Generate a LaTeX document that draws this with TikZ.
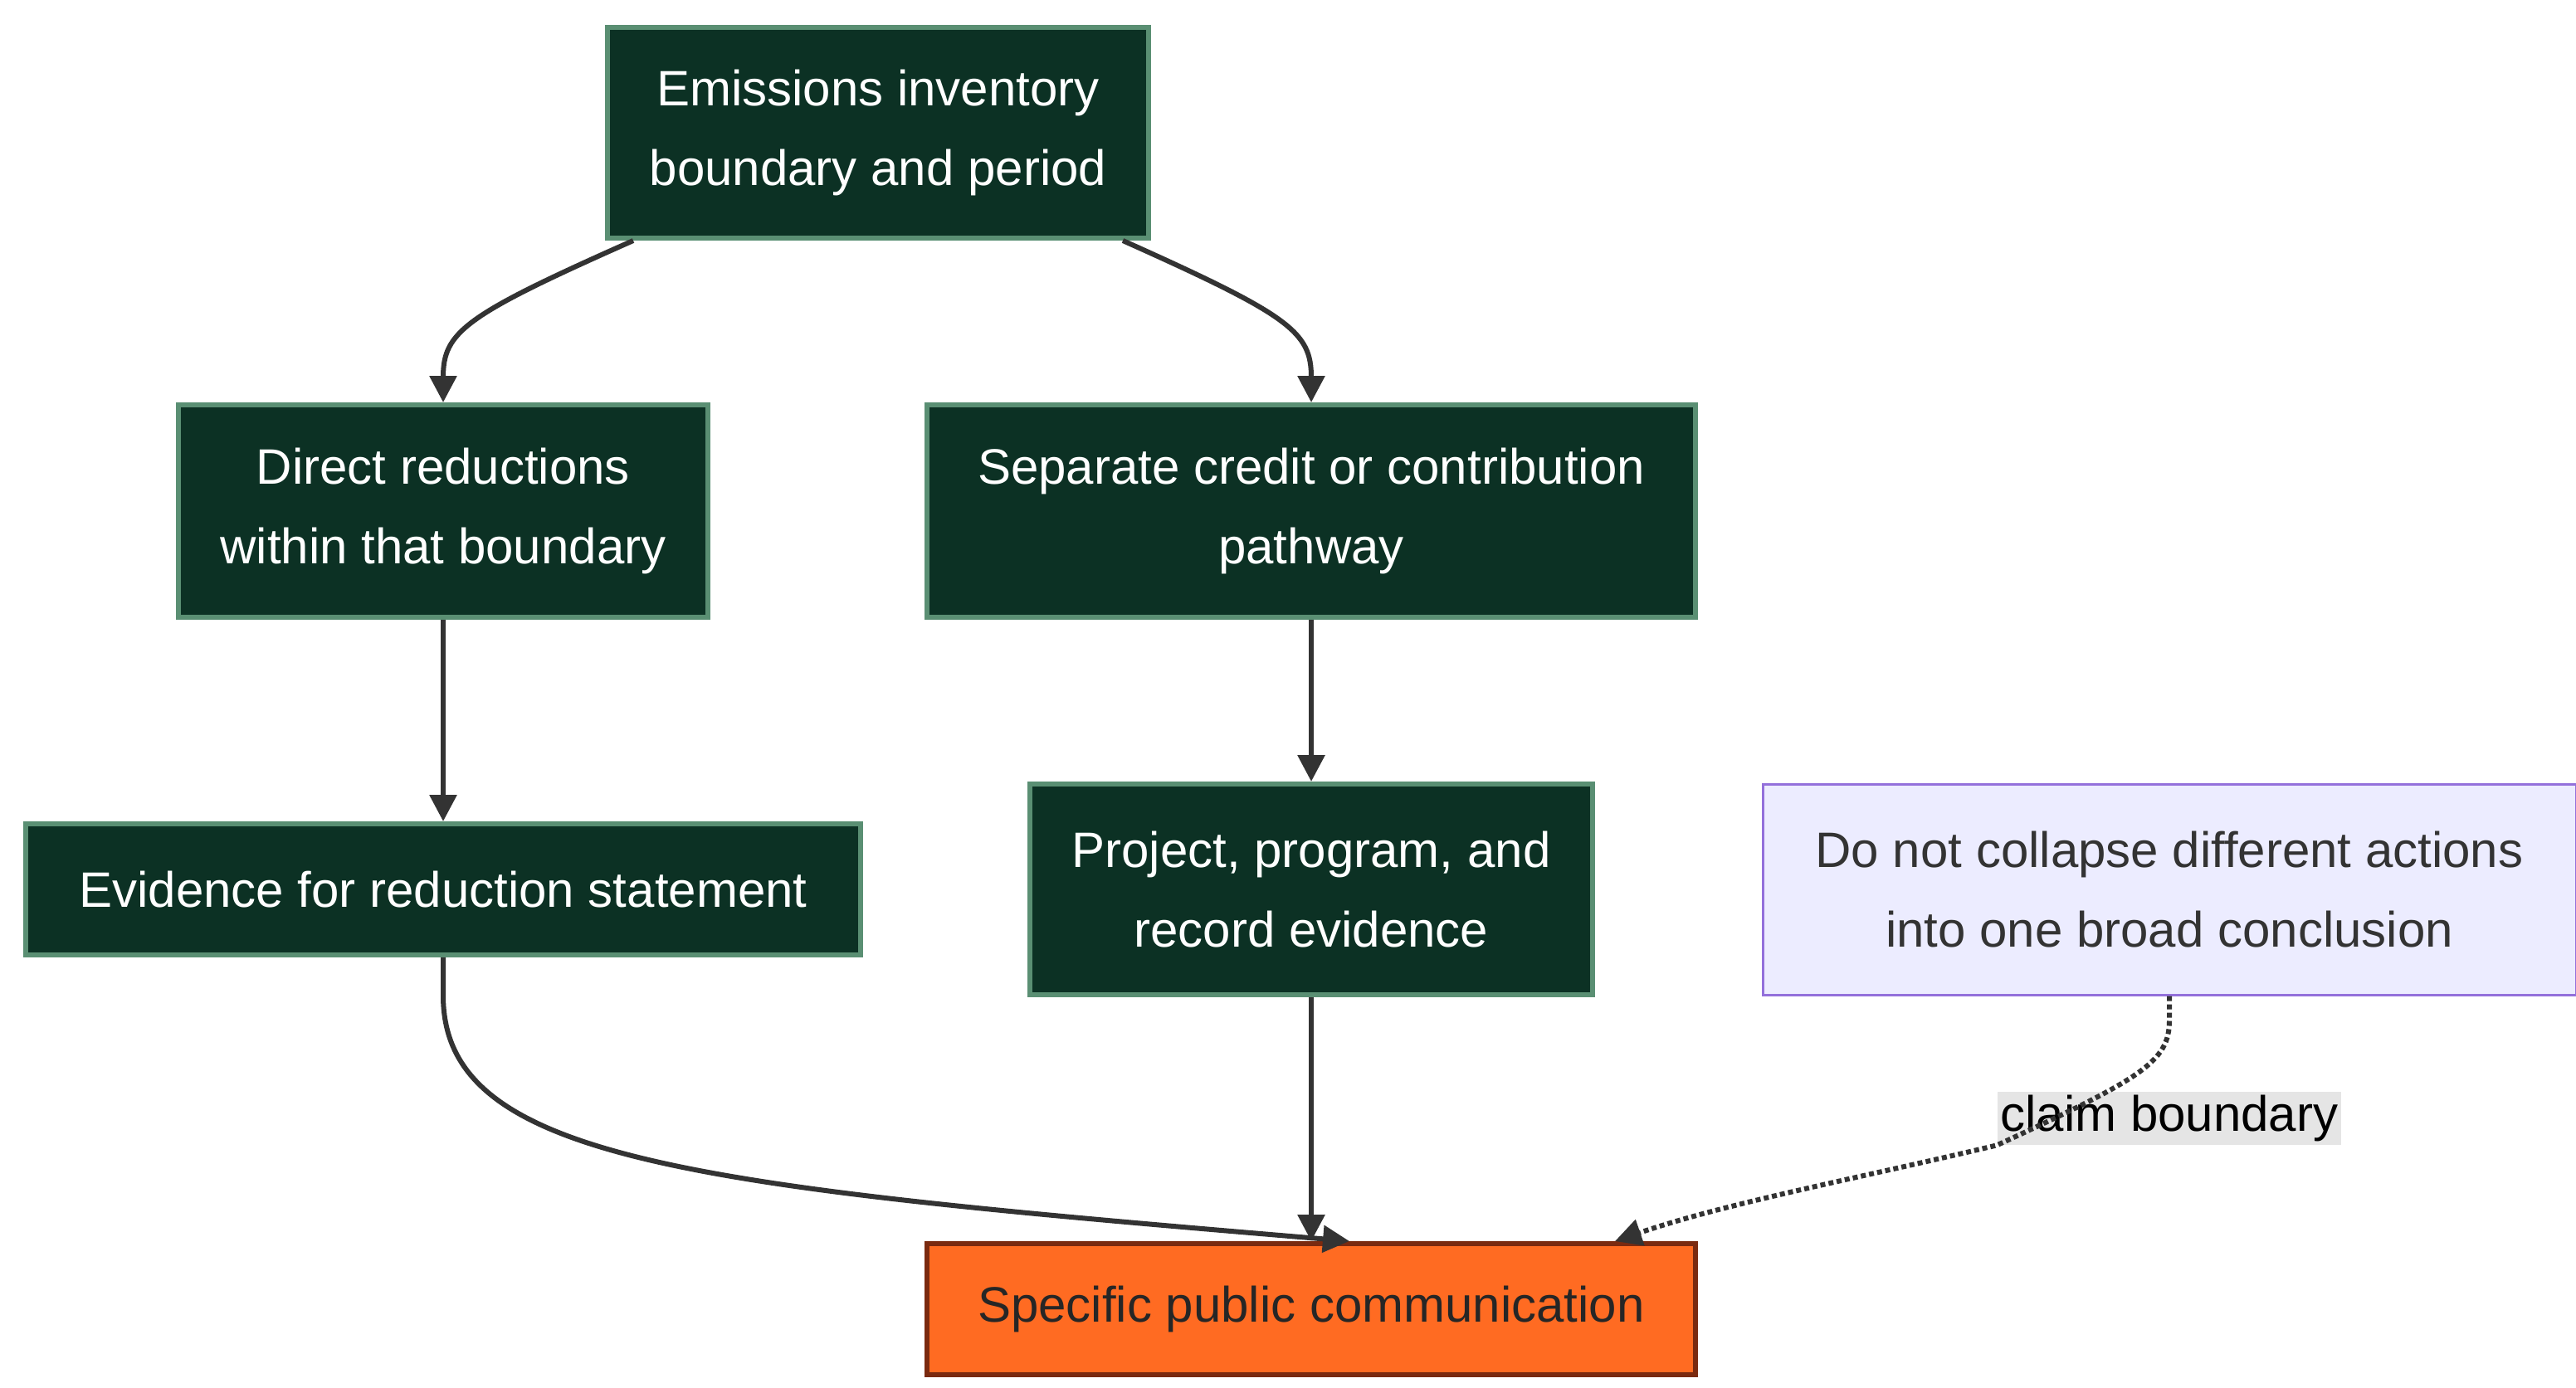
\documentclass[tikz,border=0pt]{standalone}
\usepackage{fontspec}
\setmainfont{Liberation Sans}
\usetikzlibrary{arrows.meta}
\definecolor{stepgreen}{HTML}{0C3124}
\definecolor{stepedge}{HTML}{5A8F73}
\definecolor{claimorange}{HTML}{FF6B22}
\definecolor{claimedge}{HTML}{7A2A10}
\definecolor{notefill}{HTML}{ECECFF}
\definecolor{noteedge}{HTML}{9370DB}
\definecolor{linkgrey}{HTML}{333333}

\begin{document}
\begin{tikzpicture}[x=1pt,y=-1pt,
    every node/.style={font=\fontsize{30}{48}\selectfont, align=center, inner sep=0pt},
    stepbox/.style={draw=stepedge, fill=stepgreen, text=white, line width=3pt},
    claimbox/.style={draw=claimedge, fill=claimorange, text=black!85, line width=3pt},
    notebox/.style={draw=noteedge, fill=notefill, text=black!80, line width=1.5pt},
    link/.style={draw=linkgrey, line width=3pt, -{Triangle[length=16pt,width=16pt]}}]
    \useasboundingbox (0,0) rectangle (1552,836);
    % boxes
    \node[stepbox, minimum width=326, minimum height=127] (inventory) at (529,80) {Emissions inventory\\boundary and period};
    \node[stepbox, minimum width=319, minimum height=128] (direct) at (267,308) {Direct reductions\\within that boundary};
    \node[stepbox, minimum width=463, minimum height=128] (credit) at (790,308) {Separate credit or contribution\\pathway};
    \node[stepbox, minimum width=503, minimum height=79] (evidence) at (267,536) {Evidence for reduction statement};
    \node[stepbox, minimum width=339, minimum height=127] (project) at (790,536) {Project, program, and\\record evidence};
    \node[notebox, minimum width=490, minimum height=127] (note) at (1307,536) {Do not collapse different actions\\into one broad conclusion};
    \node[claimbox, minimum width=463, minimum height=79] (public) at (790,789) {Specific public communication};
    \node[fill=black!10, inner sep=2pt] (boundary) at (1307,674) {claim boundary};
    % links
    \draw[link] ([xshift=17pt]inventory.south west) .. controls (280,190) and (267,200) .. (direct.north);
    \draw[link] ([xshift=-17pt]inventory.south east) .. controls (777,190) and (790,200) .. (credit.north);
    \draw[link] (direct) -- (evidence);
    \draw[link] (credit) -- (project);
    \draw[link] (evidence.south) -- (267,600) .. controls (267,700) and (420,715) .. ([xshift=-210pt]public.north east);
    \draw[link] (project) -- (public);
    \draw[link, dotted, line width=3pt] (note.south) -- (1307,615) .. controls (1307,640) and (1290,650) .. (boundary.south west)
        .. controls (1120,710) and (1040,725) .. ([xshift=-50pt]public.north east);
\end{tikzpicture}
\end{document}
